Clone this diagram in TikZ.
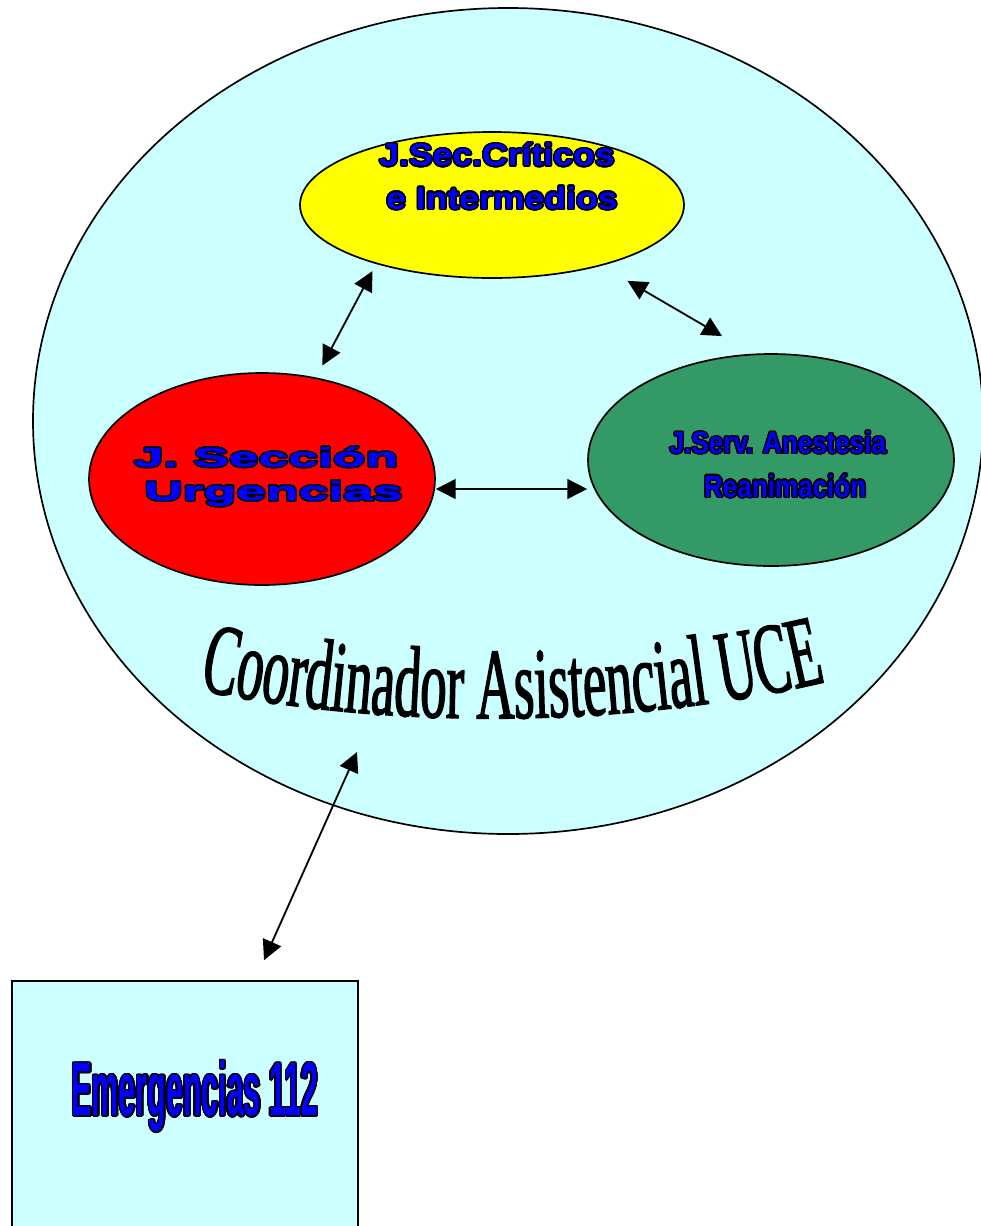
\documentclass[tikz,border=0pt]{standalone}
\usepackage{fontspec}
\usepackage[copies]{contour}
\usetikzlibrary{shapes.geometric}
\usetikzlibrary{arrows.meta}
\usetikzlibrary{decorations.text}
\usetikzlibrary{positioning}

\newfontfamily\critfont[FakeStretch=1.15]{Liberation Sans}
\newfontfamily\urgfont[FakeStretch=2.0,FakeBold=1.5]{Liberation Sans}
\newfontfamily\anesfont[FakeStretch=0.85]{Liberation Sans}
\newfontfamily\emerfont[FakeStretch=0.40]{Liberation Sans}
\newfontfamily\arcfont[FakeStretch=0.52,FakeBold=1.3]{Liberation Serif}

\definecolor{cyanbg}{HTML}{CCFFFF}
\definecolor{crityellow}{HTML}{FFFF00}
\definecolor{urgred}{HTML}{FF0000}
\definecolor{anesgreen}{HTML}{339966}
\definecolor{wartblue}{HTML}{0000FF}

\contourlength{1pt}
\contournumber{24}
\newcommand{\wart}[1]{\contour{black}{#1}}

\tikzset{
  blob/.style={ellipse, draw, line width=1.2pt, inner sep=0pt},
  dbl/.style={{Triangle[length=14pt,width=14pt]}-{Triangle[length=14pt,width=14pt]}, line width=1.3pt},
  wart/.style={text=wartblue, align=center, inner sep=0pt},
}

\begin{document}
\begin{tikzpicture}[x=0.025cm, y=-0.025cm]
 \clip (0,0) rectangle (981,1226);

 %outer ellipse
 \node[blob, fill=cyanbg, minimum width=950*0.025cm, minimum height=826*0.025cm] (uce) at (508,421) {};

 %level 1
 \foreach \nm/\cx/\cy/\rx/\ry/\col in {crit/492/205/192/73/crityellow, urg/262/479/173/106/urgred, anes/771/460/183/106/anesgreen} {
   \node[blob, fill=\col, minimum width=2*\rx*0.025cm, minimum height=2*\ry*0.025cm] (\nm) at (\cx,\cy) {};
 }

 \node[wart, font=\critfont\bfseries\fontsize{22}{30.6}\selectfont] (critlbl) at (497,177) {\wart{J.Sec.Críticos}\\\wart{\ e Intermedios}};
 \node[wart, font=\urgfont\bfseries\fontsize{19}{24}\selectfont] (urglbl) at (266,477) {\wart{J. Sección}\\\wart{\ Urgencias}};
 \node[wart, font=\anesfont\bfseries\fontsize{21.8}{31}\selectfont] (aneslbl) at (778,465) {\wart{J.Serv. Anestesia}\\\wart{\ \ Reanimación}};

 \path[decorate, decoration={text along path, text align=center,
   text={|\arcfont\fontsize{72}{72}\selectfont|Coordinador Asistencial UCE}}]
   (200,690) .. controls (390,730) and (630,728) .. (825,682);

 %arrows
 \draw[dbl, shorten <=0.2cm, shorten >=0.34cm] (crit.207) -- (urg.62);
 \draw[dbl, shorten <=0.75cm, shorten >=0.875cm] (crit.331) -- (anes.100);
 \coordinate (urgport) at ([yshift=-0.25cm]urg.east);
 \draw[dbl] (urgport) -- (urgport -| anes.west);

 %level 0
 \node[draw, fill=cyanbg, line width=1.2pt, minimum width=346*0.025cm, minimum height=280*0.025cm] (emer) at (185,1121) {};
 \node[wart, font=\emerfont\bfseries\fontsize{54}{54}\selectfont] (emerlbl) at (195,1097) {\wart{Emergencias 112}};

 \coordinate (uceport) at (357,752);
 \draw[dbl] (uceport) -- ([xshift=1.975cm, yshift=0.5cm]emer.north);

\end{tikzpicture}
\end{document}
